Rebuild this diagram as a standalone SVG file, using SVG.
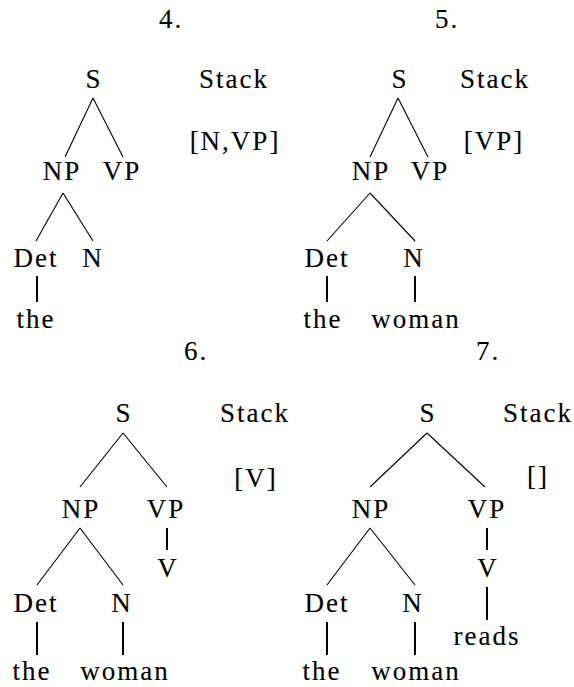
<svg xmlns="http://www.w3.org/2000/svg" width="574" height="687" viewBox="0 0 574 687">
  <style>
    text { font-family: "Liberation Serif", "DejaVu Serif", serif; font-size: 27px; fill: #000; stroke: #000; stroke-width: 0.12; text-anchor: middle; letter-spacing: 2px; }
    .branch { stroke: #000; stroke-width: 1.1; fill: none; }
    .stem { stroke: #000; stroke-width: 2; fill: none; }
  </style>
  <rect width="574" height="687" fill="#fff"/>

  <!-- Step 4 -->
  <g id="step4">
    <text x="171" y="28">4.</text>
    <g id="s4-S"><text x="94" y="88">S</text></g>
    <g id="s4-stack"><text x="234" y="88">Stack</text><text x="235" y="150">[N,VP]</text></g>
    <g id="s4-NP"><text x="62" y="180">NP</text></g>
    <g id="s4-VP"><text x="122" y="180">VP</text></g>
    <g id="s4-Det"><text x="36" y="267">Det</text></g>
    <g id="s4-N"><text x="93" y="267">N</text></g>
    <g id="s4-the"><text x="36" y="328">the</text></g>
  </g>

  <!-- Step 5 -->
  <g id="step5">
    <text x="447" y="28">5.</text>
    <g id="s5-S"><text x="400" y="88">S</text></g>
    <g id="s5-stack"><text x="495" y="88">Stack</text><text x="494" y="150">[VP]</text></g>
    <g id="s5-NP"><text x="371" y="180">NP</text></g>
    <g id="s5-VP"><text x="430" y="180">VP</text></g>
    <g id="s5-Det"><text x="327" y="267">Det</text></g>
    <g id="s5-N"><text x="414" y="267">N</text></g>
    <g id="s5-the"><text x="323" y="328">the</text></g>
    <g id="s5-woman"><text x="416" y="328">woman</text></g>
  </g>

  <!-- Step 6 -->
  <g id="step6">
    <text x="196" y="360">6.</text>
    <g id="s6-S"><text x="124" y="422">S</text></g>
    <g id="s6-stack"><text x="255" y="422">Stack</text><text x="256" y="487">[V]</text></g>
    <g id="s6-NP"><text x="81" y="518">NP</text></g>
    <g id="s6-VP"><text x="166" y="518">VP</text></g>
    <g id="s6-V"><text x="168" y="577">V</text></g>
    <g id="s6-Det"><text x="36" y="612">Det</text></g>
    <g id="s6-N"><text x="122" y="612">N</text></g>
    <g id="s6-the"><text x="32" y="680">the</text></g>
    <g id="s6-woman"><text x="125" y="680">woman</text></g>
  </g>

  <!-- Step 7 -->
  <g id="step7">
    <text x="488" y="360">7.</text>
    <g id="s7-S"><text x="428" y="422">S</text></g>
    <g id="s7-stack"><text x="538" y="422">Stack</text><text x="538" y="485">[]</text></g>
    <g id="s7-NP"><text x="371" y="518">NP</text></g>
    <g id="s7-VP"><text x="487" y="518">VP</text></g>
    <g id="s7-V"><text x="488" y="577">V</text></g>
    <g id="s7-reads"><text x="487" y="645">reads</text></g>
    <g id="s7-Det"><text x="327" y="612">Det</text></g>
    <g id="s7-N"><text x="413" y="612">N</text></g>
    <g id="s7-the"><text x="322" y="680">the</text></g>
    <g id="s7-woman"><text x="416" y="680">woman</text></g>
  </g>

  <!-- Tree edges -->
  <g id="connectors">
    <!-- step 4 -->
    <path class="branch" d="M93 98 L65 157 M93 98 L123 157"/>
    <path class="branch" d="M63 193 L36 241 M63 193 L93 241"/>
    <path class="stem" d="M37 276 V302"/>
    <!-- step 5 -->
    <path class="branch" d="M398 98 L370 157 M398 98 L428 157"/>
    <path class="branch" d="M370 193 L327 241 M370 193 L415 241"/>
    <path class="stem" d="M327 276 V302 M415 276 V302"/>
    <!-- step 6 -->
    <path class="branch" d="M123 433 L80 487 M123 433 L167 487"/>
    <path class="stem" d="M167 528 V550"/>
    <path class="branch" d="M80 528 L37 585 M80 528 L123 585"/>
    <path class="stem" d="M37 622 V655 M123 622 V655"/>
    <!-- step 7 -->
    <path class="branch" d="M427 433 L370 487 M427 433 L485 487"/>
    <path class="stem" d="M487 528 V550 M487 587 V620"/>
    <path class="branch" d="M370 528 L327 585 M370 528 L415 585"/>
    <path class="stem" d="M327 622 V655 M415 622 V655"/>
  </g>
</svg>
